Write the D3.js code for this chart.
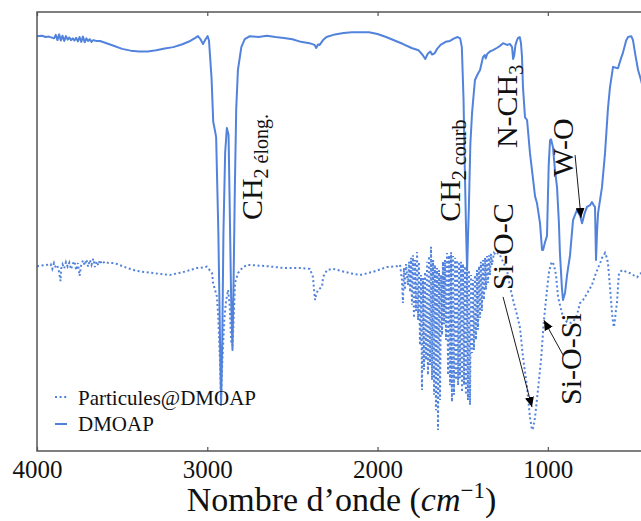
<!DOCTYPE html>
<html>
<head>
<meta charset="utf-8">
<script src="https://cdn.jsdelivr.net/npm/d3@7"></script>
<style>
  html, body { margin: 0; padding: 0; background: #fff; }
  svg { display: block; }
  text { font-family: "Liberation Serif", "DejaVu Serif", serif; fill: #111; }
</style>
</head>
<body>
<svg id="chart" width="641" height="521"></svg>
<script>
// ---------------- DATA ----------------
const xTicks = [4000, 3000, 2000, 1000];
const seriesNames = ["Particules@DMOAP", "DMOAP"];

// DMOAP (solid) : [wavenumber cm-1, transmittance a.u.]
const dmoap = [
  [4000,94.5],[3970,94.6],[3950,94.3],[3930,94.4],[3900,94.0],[3890,94.8],[3880,93.6],[3870,94.9],
  [3860,93.5],[3850,94.6],[3840,93.4],[3830,94.5],[3820,93.7],[3810,94.2],[3800,93.6],[3790,94.0],
  [3780,93.5],[3770,94.1],[3760,93.3],[3750,94.3],[3740,93.2],[3730,94.4],[3720,93.1],[3710,94.0],
  [3700,93.4],[3690,93.8],[3680,93.2],[3670,93.6],[3650,93.4],[3630,93.4],[3600,93.0],[3550,92.3],
  [3500,91.6],[3450,91.2],[3400,91.0],[3350,91.0],[3300,91.3],[3250,91.7],[3200,92.0],[3150,92.6],
  [3100,93.4],[3070,94.1],[3055,94.5],[3040,93.8],[3025,92.7],[3010,93.8],[2998,94.5],[2990,93.5],
  [2975,85],[2965,75],[2955,73],[2948,71.5],[2935,50],[2925,25],[2919,10.5],[2912,25],[2905,50],
  [2895,68],[2885,73.6],[2875,72],[2868,55],[2860,35],[2852,23],[2845,40],[2838,60],[2830,78],
  [2820,86.8],[2800,92],[2780,93.8],[2750,94.5],[2700,94.3],[2650,94.6],[2600,94.3],[2550,94.1],
  [2500,93.8],[2450,93.2],[2400,92.9],[2370,92.5],[2360,91.8],[2350,92.6],[2340,92.5],[2320,93.6],
  [2300,94.3],[2250,94.9],[2200,95.2],[2150,95.4],[2100,95.4],[2050,95.4],[2000,95.0],[1950,94.3],
  [1900,93.5],[1850,92.7],[1800,91.8],[1760,91.3],[1735,90.2],[1720,89.3],[1705,90.5],[1690,91.0],
  [1680,90.3],[1665,90.6],[1650,91.6],[1630,92.5],[1600,93.2],[1575,93.4],[1550,94.0],[1530,94.3],
  [1515,94.0],[1505,92],[1495,80],[1488,65],[1480,50],[1474,41.2],[1468,50],[1464,55],[1455,70],
  [1445,77],[1440,79.3],[1428,84.5],[1410,86],[1398,86.8],[1381,89.7],[1370,90.2],[1365,89.4],
  [1355,90.5],[1340,91.0],[1322,91.3],[1300,91.8],[1280,92.3],[1263,92.9],[1240,92.5],[1222,92.7],
  [1210,92.0],[1204,89.3],[1198,90.0],[1190,92.5],[1181,93.6],[1175,94.1],[1165,94.3],[1158,93],
  [1152,90.0],[1146,82.9],[1134,76],[1122,75.4],[1105,67.9],[1075,58],[1064,56.5],[1046,51.9],
  [1034,45.8],[1028,45.8],[1017,47.5],[1005,49.0],[995,65],[987,70.8],[981,71.0],[970,69.2],
  [958,64],[946,60.1],[935,52],[929,45.1],[917,37],[911,34.4],[899,36],[887,40.1],[870,44.5],
  [852,52.6],[829,54.9],[810,53.5],[799,51.9],[785,54],[770,55.6],[752,56.0],[741,56.7],[728,55.8],
  [723,55.6],[717,43.5],[711,50],[705,54.2],[682,60.1],[664,67.9],[647,78],[635,82.9],[617,87.5],
  [600,87.3],[588,87.2],[570,89.5],[559,90.7],[540,93.5],[529,94.3],[510,94.5],[500,93.6],
  [485,90],[470,86.8],[453,84.5],[430,81],[400,78]
];

// Particules@DMOAP (dotted) : [wavenumber cm-1, transmittance a.u.]
const particules = [
  [4000,42.1],[3940,42.4],[3920,42.6],[3910,41.5],[3900,42.8],[3890,41.8],[3880,42.2],[3870,40.7],
  [3862,38.7],[3858,41.5],[3850,42.5],[3840,41.6],[3830,43.0],[3820,42.0],[3810,42.9],[3800,41.4],
  [3790,42.6],[3780,43.2],[3770,41.2],[3760,42.8],[3750,39.9],[3740,42.5],[3730,43.4],[3720,42.3],
  [3710,43.6],[3700,42.0],[3690,43.5],[3680,42.4],[3670,43.8],[3660,41.9],[3650,43.2],[3640,42.3],
  [3630,43.5],[3620,42.6],[3600,43.2],[3580,42.8],[3550,42.8],[3530,42.6],[3471,41.7],[3413,41.0],
  [3313,40.5],[3219,40.1],[3137,40.8],[3060,41.7],[3043,41.7],[3002,42.0],[2972,40.5],[2966,38.3],
  [2943,35.1],[2935,30],[2925,20],[2919,12.1],[2912,20],[2900,30],[2890,34],[2878,36.7],[2868,33],
  [2860,25],[2852,24],[2845,30],[2837,38.3],[2820,40.5],[2790,41.9],[2761,42.4],[2649,42.1],
  [2555,41.7],[2455,41.7],[2397,41.5],[2379,39.6],[2373,36.7],[2367,34.4],[2361,35.5],[2350,36.7],
  [2326,37.4],[2320,39.6],[2297,41.2],[2262,41.5],[2162,40.5],[2103,40.1],[2027,40.8],[1945,41.9],
  [1886,42.1],[1868,42.4],[1857,39.0],[1851,33.7],[1845,41.7],[1839,36.7],[1833,42.6],[1821,37.8],
  [1815,43.1],[1809,36.2],[1803,44.0],[1798,33.3],[1792,44.6],[1786,30.3],[1780,43.5],[1774,31.9],
  [1768,45.3],[1762,29.8],[1757,43.1],[1751,24.1],[1745,40.1],[1739,13.9],[1733,39.4],[1727,18.5],
  [1721,40.8],[1715,20.7],[1709,43.1],[1704,17.3],[1698,44.4],[1692,19.6],[1686,46.5],[1680,16.2],
  [1674,43.5],[1668,12.8],[1663,42.4],[1657,9.3],[1651,41.7],[1645,4.8],[1639,41.2],[1633,11.6],
  [1627,40.1],[1621,26.4],[1616,43.1],[1610,28.9],[1604,43.5],[1598,25.3],[1592,45.1],[1586,17.3],
  [1580,44.6],[1574,15.0],[1568,45.3],[1563,11.2],[1557,44.4],[1551,12.8],[1545,44.0],[1539,16.2],
  [1533,43.5],[1527,15.0],[1521,43.1],[1516,16.6],[1510,43.1],[1504,13.4],[1498,42.6],[1492,15.0],
  [1486,42.1],[1481,12.8],[1475,41.9],[1469,11.6],[1463,41.2],[1457,10.5],[1451,40.1],[1445,22.3],
  [1440,39.0],[1434,23.0],[1428,40.1],[1422,25.3],[1416,41.2],[1410,27.6],[1404,42.1],[1398,30.3],
  [1393,43.1],[1387,31.9],[1381,43.5],[1375,34.4],[1369,44.0],[1363,36.7],[1357,44.4],[1351,38.3],
  [1346,44.6],[1340,40.1],[1334,44.9],[1328,42.4],[1316,45.1],[1304,44.6],[1293,45.1],[1281,44.6],
  [1263,43.1],[1240,41.2],[1222,37.4],[1204,34.4],[1181,31.0],[1163,28.0],[1146,21.4],[1122,14.6],
  [1105,7.7],[1093,4.8],[1087,5.2],[1075,7.7],[1058,13.9],[1040,20.7],[1023,29.8],[1005,36.7],
  [993,40.8],[981,42.6],[976,43.1],[964,42.4],[952,40.1],[940,35.1],[929,33.3],[917,31.4],
  [899,29.8],[882,29.2],[864,29.2],[846,29.8],[829,31.0],[811,33.7],[793,34.4],[776,35.5],
  [758,36.7],[741,37.8],[723,39.9],[705,41.7],[690,43.1],[682,44.0],[670,44.6],[664,45.1],
  [653,44.0],[647,42.8],[641,40.1],[635,37.4],[629,34.4],[623,31.4],[617,29.4],[612,28.2],
  [606,29.8],[600,32.1],[594,33.7],[588,37.4],[582,40.5],[570,41.0],[559,41.2],[540,40.8],
  [517,40.5],[476,39.6],[453,40.5],[430,40.8],[400,40.8]
];

// Annotations: text, anchor [wavenumber, value], subscript, optional arrow [from], [to]
const annotations = [
  {main: "CH", sub: "2 élong.", at: [2679, 52.6]},
  {main: "CH", sub: "2 courb", at: [1516, 52.2]},
  {main: "N-CH", sub: "3", at: [1181, 69.0]},
  {main: "W-O", sub: "", at: [852, 62.5], from: [840, 67.4], to: [805, 53.1]},
  {main: "Si-O-C", sub: "", at: [1205, 36.7], from: [1263, 35.1], to: [1093, 10.0]},
  {main: "Si-O-Si", sub: "", at: [805, 10.5], from: [911, 21.9], to: [1023, 29.8]}
];

// ---------------- CHART ----------------
const FONT = '"Liberation Serif", "DejaVu Serif", serif';
const plot = {left: 37, right: 650, top: 12, bottom: 451};
const color = "#5283dc";

const svg = d3.select("#chart");
const x = d3.scaleLinear().domain([4000, 400]).range([plot.left, plot.right]);
const y = d3.scaleLinear().domain([0, 100]).range([plot.bottom, plot.top]);

svg.append("defs").append("clipPath").attr("id", "clip")
  .append("rect").attr("x", plot.left).attr("y", plot.top)
  .attr("width", plot.right - plot.left).attr("height", plot.bottom - plot.top);

svg.append("defs").append("marker")
  .attr("id", "arrow").attr("markerUnits", "userSpaceOnUse")
  .attr("markerWidth", 11).attr("markerHeight", 9)
  .attr("refX", 10).attr("refY", 4.5).attr("orient", "auto")
  .append("path").attr("d", "M0,0 L10,4.5 L0,9 Z").attr("fill", "#000");

const line = d3.line().x(d => x(d[0])).y(d => y(d[1]));

const g = svg.append("g").attr("clip-path", "url(#clip)");
g.append("path").datum(particules).attr("d", line)
  .attr("fill", "none").attr("stroke", color).attr("stroke-width", 2)
  .attr("stroke-dasharray", "2,2.6");
g.append("path").datum(dmoap).attr("d", line)
  .attr("fill", "none").attr("stroke", color).attr("stroke-width", 2)
  .attr("stroke-linejoin", "round");

// frame
svg.append("rect").attr("x", plot.left).attr("y", plot.top)
  .attr("width", plot.right - plot.left).attr("height", plot.bottom - plot.top)
  .attr("fill", "none").attr("stroke", "#555").attr("stroke-width", 1.5);

// axes
const xAxis = d3.axisBottom(x).tickValues(xTicks).tickSizeInner(-4).tickSizeOuter(0)
  .tickPadding(9).tickFormat(d3.format("d"));
const gx = svg.append("g").attr("transform", `translate(0,${plot.bottom})`).call(xAxis)
  .attr("font-family", FONT);
gx.select(".domain").remove();
gx.selectAll(".tick line").attr("stroke", "#555").attr("stroke-width", 1.2);
gx.selectAll(".tick text").attr("font-size", 25).attr("font-family", FONT).attr("fill", "#111");

const xTop = d3.axisTop(x).tickValues(xTicks).tickSizeInner(-4).tickSizeOuter(0).tickFormat("");
const gt = svg.append("g").attr("transform", `translate(0,${plot.top})`).call(xTop);
gt.select(".domain").remove();
gt.selectAll(".tick line").attr("stroke", "#555").attr("stroke-width", 1.2);

// x label
const xl = svg.append("text").attr("x", (plot.left + plot.right) / 2 - 2).attr("y", 511)
  .attr("text-anchor", "middle").attr("font-size", 34).attr("font-family", FONT);
xl.append("tspan").text("Nombre d\u2019onde (");
xl.append("tspan").attr("font-style", "italic").text("cm");
xl.append("tspan").attr("font-size", 23).attr("dy", -13).text("\u22121");
xl.append("tspan").attr("dy", 13).text(")");

// annotations
annotations.forEach(a => {
  const t = svg.append("text")
    .attr("transform", `translate(${x(a.at[0])},${y(a.at[1])}) rotate(-90)`)
    .attr("font-size", 30).attr("font-family", FONT);
  t.append("tspan").text(a.main);
  if (a.sub) t.append("tspan").attr("font-size", 20).attr("dy", 6).text(a.sub);
  if (a.from) {
    svg.append("line")
      .attr("x1", x(a.from[0])).attr("y1", y(a.from[1]))
      .attr("x2", x(a.to[0])).attr("y2", y(a.to[1]))
      .attr("stroke", "#000").attr("stroke-width", 0.9)
      .attr("marker-end", "url(#arrow)");
  }
});

// legend
const legend = svg.append("g");
const legendItems = [
  {name: seriesNames[0], dash: "2,2.6", yPos: 397, textY: 405},
  {name: seriesNames[1], dash: null, yPos: 424, textY: 431}
];
legendItems.forEach(it => {
  const l = legend.append("line").attr("x1", 55).attr("x2", 67)
    .attr("y1", it.yPos).attr("y2", it.yPos)
    .attr("stroke", color).attr("stroke-width", 2);
  if (it.dash) l.attr("stroke-dasharray", it.dash);
  legend.append("text").attr("x", 78).attr("y", it.textY)
    .attr("font-size", 21).attr("font-family", FONT).text(it.name);
});
</script>
</body>
</html>
